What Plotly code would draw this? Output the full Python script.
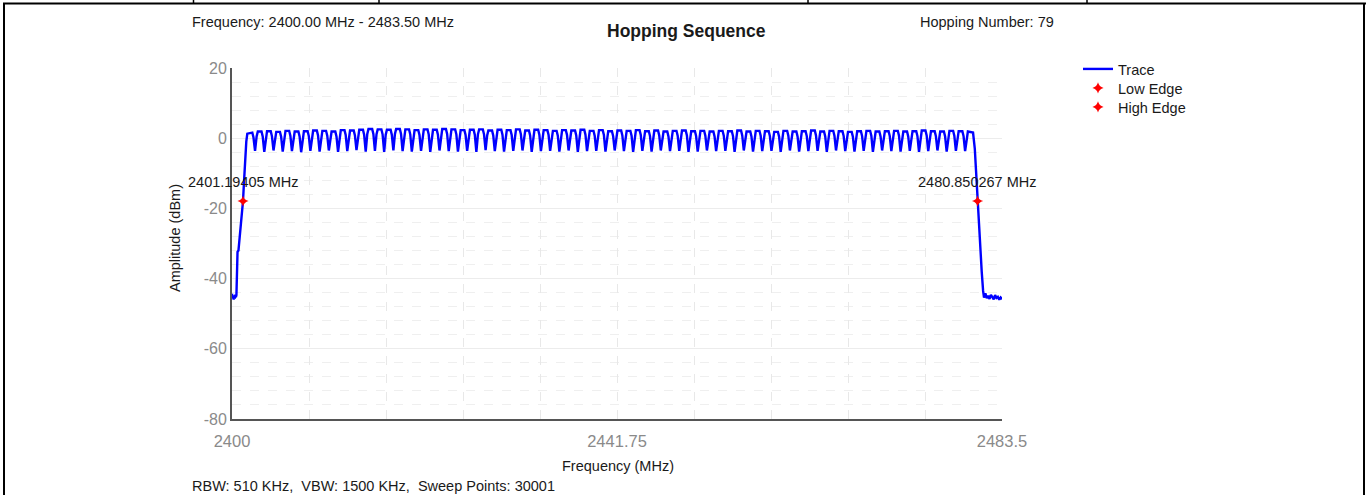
import plotly.graph_objects as go

# ---- measurement data -------------------------------------------------------
span_start_mhz = 2400.0
span_stop_mhz = 2483.5
rbw_khz = 510
vbw_khz = 1500
sweep_points = 30001

# hop channel centres (MHz), 1 MHz raster
channel_mhz = [2402 + k for k in range(79)]

# peak level of each hop lobe (dBm)
channel_peak_dbm = [
    1.6, 1.9, 2.0, 1.8, 2.1, 1.9, 2.0, 2.2, 2.1, 1.9,
    2.3, 2.2, 2.4, 2.6, 2.5, 2.4, 2.6, 2.5, 2.3, 2.5,
    2.4, 2.6, 2.5, 2.3, 2.4, 2.5, 2.2, 2.4, 2.3, 2.5,
    2.2, 2.4, 2.3, 2.1, 2.3, 2.2, 2.4, 2.1, 2.3, 2.0,
    2.2, 2.1, 2.3, 2.0, 2.2, 1.9, 2.1, 2.2, 2.0, 2.1,
    1.9, 2.1, 2.0, 2.2, 1.9, 2.1, 2.0, 1.8, 2.1, 1.9,
    2.0, 2.2, 1.9, 2.1, 2.0, 1.8, 2.0, 2.1, 1.9, 2.0,
    2.1, 1.9, 2.0, 2.2, 2.0, 1.9, 2.1, 2.0, 1.9,
]

# notch level between neighbouring hops (dBm), one per channel gap
channel_notch_dbm = [
    -3.6, -3.9, -3.5, -3.8, -3.7, -4.0, -3.6, -3.8, -3.5, -3.9,
    -3.7, -3.4, -3.8, -3.6, -3.9, -3.5, -3.7, -3.8, -3.6, -3.9,
    -3.5, -3.7, -3.8, -3.6, -3.9, -3.4, -3.7, -3.8, -3.6, -3.5,
    -3.9, -3.7, -3.6, -3.8, -3.5, -3.9, -3.7, -3.6, -3.8, -3.5,
    -3.7, -3.9, -3.6, -3.8, -3.5, -3.7, -3.6, -3.9, -3.8, -3.5,
    -3.7, -3.6, -3.9, -3.5, -3.8, -3.7, -3.6, -3.9, -3.5, -3.8,
    -3.7, -3.6, -3.9, -3.5, -3.7, -3.8, -3.6, -3.9, -3.5, -3.7,
    -3.8, -3.6, -3.9, -3.7, -3.5, -3.8, -3.6, -3.7,
]

# lower skirt and noise floor below the first hop
low_skirt_mhz = [2400.0, 2400.06, 2400.12, 2400.18, 2400.24, 2400.30, 2400.36,
                 2400.42, 2400.48, 2400.52, 2400.60, 2400.70, 2400.80, 2400.90,
                 2401.0, 2401.1, 2401.19405, 2401.3, 2401.42, 2401.55, 2401.66]
low_skirt_dbm = [-44.3, -45.6, -44.8, -46.0, -45.1, -45.7, -44.6,
                 -45.3, -44.7, -33.5, -32.4, -32.0, -29.5, -25.5,
                 -22.5, -20.3, -17.9, -12.5, -6.5, -1.0, 1.3]

# upper skirt and noise floor above the last hop
high_skirt_mhz = [2480.36, 2480.55, 2480.68, 2480.850267, 2481.0, 2481.15, 2481.3,
                  2481.45, 2481.55, 2481.7, 2481.85, 2482.0, 2482.15, 2482.3,
                  2482.45, 2482.6, 2482.75, 2482.9, 2483.05, 2483.2, 2483.35, 2483.5]
high_skirt_dbm = [1.6, -3.0, -9.1, -17.9, -25.0, -32.0, -38.0,
                  -43.5, -45.4, -44.2, -45.6, -44.9, -45.8, -44.6,
                  -45.3, -45.9, -44.7, -45.5, -45.2, -46.0, -45.4, -45.9]

# 20 dB band-edge markers
low_edge_mhz, low_edge_dbm = 2401.19405, -17.9
high_edge_mhz, high_edge_dbm = 2480.850267, -17.9

# x grid positions (ten divisions of the span) and their labels
x_grid_vals = [2400.0, 2408.35, 2416.7, 2425.05, 2433.4, 2441.75,
               2450.1, 2458.45, 2466.8, 2475.15, 2483.5]
x_grid_text = ["2400", "", "", "", "", "2441.75", "", "", "", "", "2483.5"]

# y ticks (plain hyphen minus signs)
y_tick_vals = [20, 0, -20, -40, -60, -80]
y_tick_text = ["20", "0", "-20", "-40", "-60", "-80"]

# ---- lobe drawing style ---------------------------------------------------
# every hop is drawn as a flat-topped lobe: offsets from the channel centre
# (MHz) and drop below the lobe peak (dB); notches sit half-way between hops
LOBE_OFFSETS = [-0.33, -0.2, 0.2, 0.33]
LOBE_DROP = [1.4, 0.0, 0.0, 1.4]

trace_x = list(low_skirt_mhz)
trace_y = list(low_skirt_dbm)
for i, (c, p) in enumerate(zip(channel_mhz, channel_peak_dbm)):
    for off, drop in zip(LOBE_OFFSETS, LOBE_DROP):
        if i == 0 and off < 0:
            continue
        if i == len(channel_mhz) - 1 and off > 0:
            continue
        trace_x.append(c + off)
        trace_y.append(p - drop)
    if i < len(channel_notch_dbm):
        trace_x.append(c + 0.5)
        trace_y.append(channel_notch_dbm[i])
trace_x += high_skirt_mhz
trace_y += high_skirt_dbm

# ---- figure ----------------------------------------------------------------
W, H = 1369, 495
L, R, T, B = 232, 367, 68, 76
PW, PH = W - L - R, H - T - B
FONT = "Liberation Sans, Arial, sans-serif"
TXT = "#1a1a1a"


def px(x):
    return (x - L) / PW


def py(y):
    return (H - B - y) / PH


fig = go.Figure()
fig.add_trace(go.Scatter(
    x=trace_x, y=trace_y, mode="lines", name="Trace", legend="legend",
    line=dict(color="#0000ff", width=2.4),
))
fig.add_trace(go.Scatter(
    x=[low_edge_mhz], y=[low_edge_dbm], mode="markers", name="Low Edge", legend="legend2",
    marker=dict(symbol="star-diamond", size=8, color="#ff0000"),
))
fig.add_trace(go.Scatter(
    x=[high_edge_mhz], y=[high_edge_dbm], mode="markers", name="High Edge", legend="legend3",
    marker=dict(symbol="star-diamond", size=8, color="#ff0000"),
))

annotations = [
    dict(x=low_edge_mhz, y=low_edge_dbm, xref="x", yref="y",
         text=f"{low_edge_mhz} MHz", showarrow=False, yshift=19,
         font=dict(size=14.5, color=TXT)),
    dict(x=high_edge_mhz, y=high_edge_dbm, xref="x", yref="y",
         text=f"{high_edge_mhz} MHz", showarrow=False, yshift=19,
         font=dict(size=14.5, color=TXT)),
    dict(x=px(190), y=py(22), xref="paper", yref="paper", xanchor="left", yanchor="middle",
         text=f"Frequency: {span_start_mhz:.2f} MHz - {span_stop_mhz:.2f} MHz",
         showarrow=False, font=dict(size=14.5, color=TXT)),
    dict(x=px(918), y=py(22), xref="paper", yref="paper", xanchor="left", yanchor="middle",
         text=f"Hopping Number: {len(channel_mhz)}",
         showarrow=False, font=dict(size=14.5, color=TXT)),
    dict(x=px(686), y=py(31), xref="paper", yref="paper", xanchor="center", yanchor="middle",
         text="<b>Hopping Sequence</b>",
         showarrow=False, font=dict(size=17.5, color=TXT)),
    dict(x=px(618), y=py(466), xref="paper", yref="paper", xanchor="center", yanchor="middle",
         text="Frequency (MHz)",
         showarrow=False, font=dict(size=14.5, color=TXT)),
    dict(x=px(175), y=py(238), xref="paper", yref="paper", xanchor="center", yanchor="middle",
         text="Amplitude (dBm)", textangle=-90,
         showarrow=False, font=dict(size=14.5, color=TXT)),
    dict(x=px(190), y=py(486), xref="paper", yref="paper", xanchor="left", yanchor="middle",
         text=f"RBW: {rbw_khz} KHz,  VBW: {vbw_khz} KHz,  Sweep Points: {sweep_points}",
         showarrow=False, font=dict(size=14.5, color=TXT)),
]

# surrounding table-cell rules
rule = dict(color="#000000", width=2)
shapes = [
    dict(type="line", xref="paper", yref="paper", x0=px(3), x1=px(1366), y0=py(3.5), y1=py(3.5), line=rule),
    dict(type="line", xref="paper", yref="paper", x0=px(4), x1=px(4), y0=py(3), y1=py(H), line=rule),
    dict(type="line", xref="paper", yref="paper", x0=px(1364), x1=px(1364), y0=py(3), y1=py(H), line=rule),
]
for sx in [193.5, 379, 808, 1087]:
    shapes.append(dict(type="line", xref="paper", yref="paper", x0=px(sx), x1=px(sx),
                       y0=py(0), y1=py(3.5), line=dict(color="#000000", width=1.5)))


def legend_box(top_px):
    # one legend row, placed at its own vertical position
    return dict(x=px(1078), y=py(top_px), xanchor="left", yanchor="top",
                bgcolor="rgba(0,0,0,0)", font=dict(size=14.5, color=TXT),
                itemwidth=30)


fig.update_layout(
    width=W, height=H, autosize=False,
    margin=dict(l=L, r=R, t=T, b=B, pad=0),
    paper_bgcolor="#ffffff", plot_bgcolor="#ffffff",
    font=dict(family=FONT, size=14.5, color=TXT),
    showlegend=True,
    legend=legend_box(53),
    legend2=legend_box(72),
    legend3=legend_box(91),
    annotations=annotations,
    shapes=shapes,
)

fig.update_xaxes(
    range=[span_start_mhz, span_stop_mhz],
    tickmode="array", tickvals=x_grid_vals, ticktext=x_grid_text,
    tickfont=dict(size=16.5, color="#8a8a8a"), ticklabelstandoff=6,
    showline=True, linecolor="#555555", linewidth=2,
    showgrid=True, gridcolor="#e8e8e8", griddash="dash", gridwidth=1,
    zeroline=False, ticks="",
)
fig.update_yaxes(
    range=[-80, 20], tickmode="array", tickvals=y_tick_vals, ticktext=y_tick_text,
    tickfont=dict(size=16, color="#8a8a8a"), ticklabelstandoff=0,
    showline=True, linecolor="#555555", linewidth=2,
    showgrid=True, gridcolor="#ececec", gridwidth=1,
    minor=dict(tickmode="linear", tick0=-80, dtick=4,
               showgrid=True, gridcolor="#efefef", griddash="dash", gridwidth=1),
    zeroline=False, ticks="",
)

fig.write_html("out.html")
